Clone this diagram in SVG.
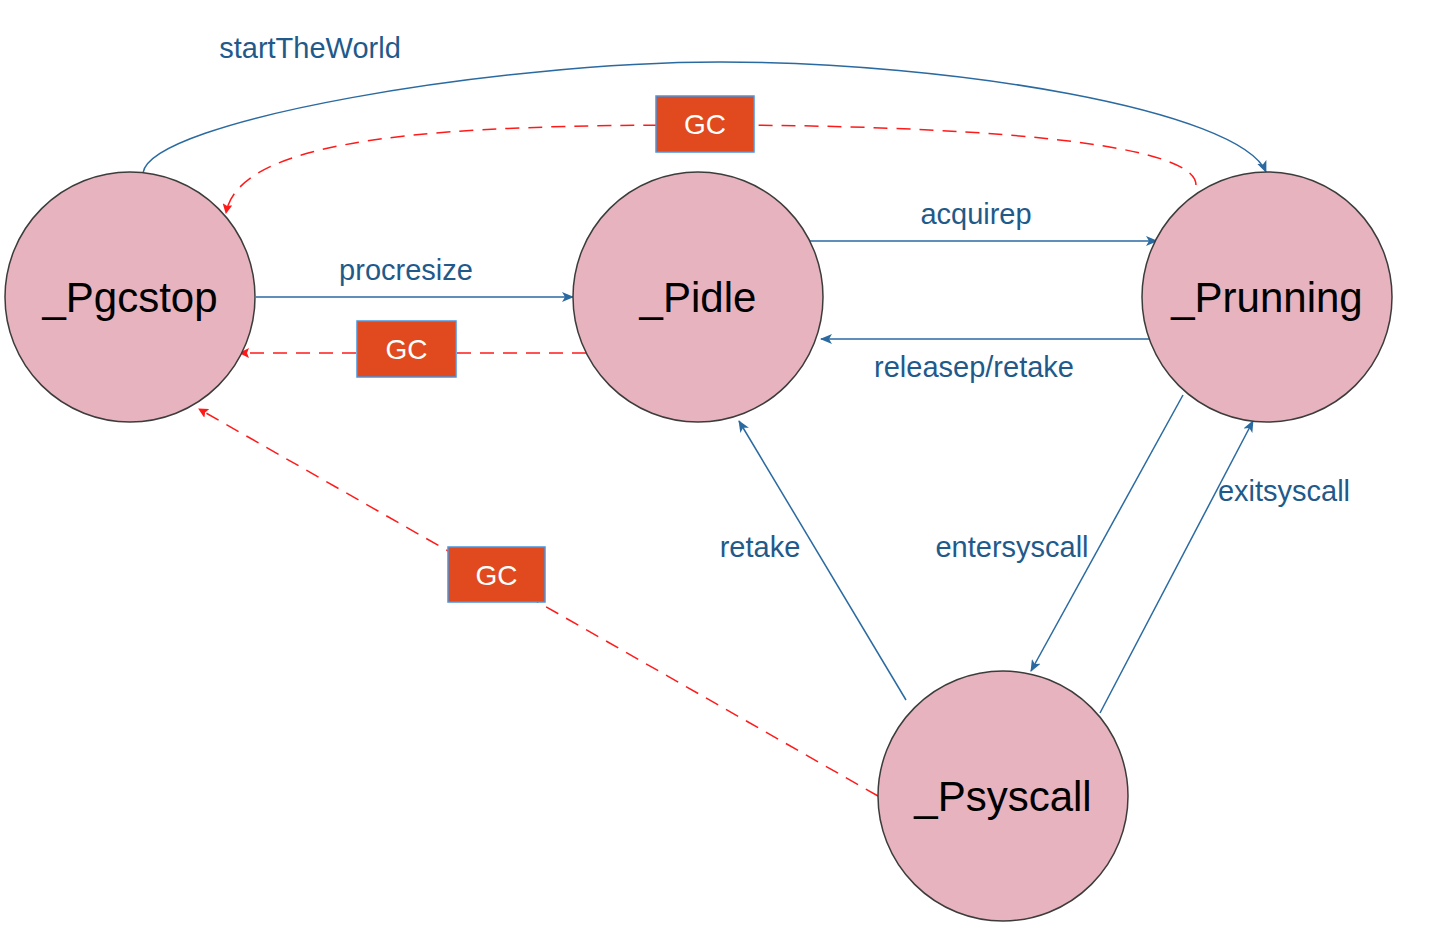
<svg xmlns="http://www.w3.org/2000/svg" width="1438" height="930" viewBox="0 0 1438 930">
<style>
.node{fill:#e6b3be;stroke:#3c3c3c;stroke-width:1.5}
.nt{font-family:"Liberation Sans",Arial,sans-serif;font-size:42px;fill:#000;text-anchor:middle}
.lbl{font-family:"Liberation Sans",Arial,sans-serif;font-size:29px;fill:#1f5a8a;text-anchor:middle}
.blue{fill:none;stroke:#2a6aa0;stroke-width:1.5;marker-end:url(#ab)}
.red{fill:none;stroke:#ff1a1a;stroke-width:1.5;stroke-dasharray:14 9;marker-end:url(#ar)}
.gc{fill:#e04a1e;stroke:#4a95dd;stroke-width:1.5}
.gct{font-family:"Liberation Sans",Arial,sans-serif;font-size:28px;fill:#fff;text-anchor:middle}
</style>
<defs>
<marker id="ab" viewBox="0 0 12 10" refX="11" refY="5" markerWidth="12" markerHeight="10" markerUnits="userSpaceOnUse" orient="auto">
<path d="M0,0 L12,5 L0,10 L3,5 Z" fill="#2a6aa0"/>
</marker>
<marker id="ar" viewBox="0 0 10 10" refX="9" refY="5" markerWidth="10" markerHeight="10" markerUnits="userSpaceOnUse" orient="auto">
<path d="M0,0 L10,5 L0,10 L2,5 Z" fill="#ff1a1a"/>
</marker>
</defs>
<rect width="1438" height="930" fill="#fff"/>
<g id="connectors">
<path class="blue" d="M143,173 C150,120 500,62 720,62 C950,62 1240,110 1266,172"/>
<path class="red" d="M1196,185 C1196,140 950,125 705,125 C450,125 240,135 226,213"/>
<path class="blue" d="M256,297 L573,297"/>
<path class="red" d="M586,353 L240,353"/>
<path class="blue" d="M810,241 L1157,241"/>
<path class="blue" d="M1155,339 L821,339"/>
<path class="blue" d="M1183,395 L1031,671"/>
<path class="blue" d="M1100,713 L1253,421"/>
<path class="blue" d="M906,700 L739,421"/>
<path class="red" d="M878,796 L199,409"/>
</g>
<g id="labels">
<text class="lbl" x="310" y="58">startTheWorld</text>
<text class="lbl" x="406" y="280">procresize</text>
<text class="lbl" x="976" y="224">acquirep</text>
<text class="lbl" x="974" y="377">releasep/retake</text>
<text class="lbl" x="760" y="557">retake</text>
<text class="lbl" x="1012" y="557">entersyscall</text>
<text class="lbl" x="1284" y="501">exitsyscall</text>
</g>
<g id="gc1"><rect class="gc" x="656" y="96" width="98" height="56"/><text class="gct" x="705" y="134">GC</text></g>
<g id="gc2"><rect class="gc" x="357" y="321" width="99" height="56"/><text class="gct" x="406.5" y="359">GC</text></g>
<g id="gc3"><rect class="gc" x="448" y="547" width="97" height="55"/><text class="gct" x="496.5" y="585">GC</text></g>
<g id="pgcstop"><circle class="node" cx="130" cy="297" r="125"/><text class="nt" x="130" y="312">_Pgcstop</text></g>
<g id="pidle"><circle class="node" cx="698" cy="297" r="125"/><text class="nt" x="698" y="312">_Pidle</text></g>
<g id="prunning"><circle class="node" cx="1267" cy="297" r="125"/><text class="nt" x="1267" y="312">_Prunning</text></g>
<g id="psyscall"><circle class="node" cx="1003" cy="796" r="125"/><text class="nt" x="1003" y="811">_Psyscall</text></g>
</svg>
